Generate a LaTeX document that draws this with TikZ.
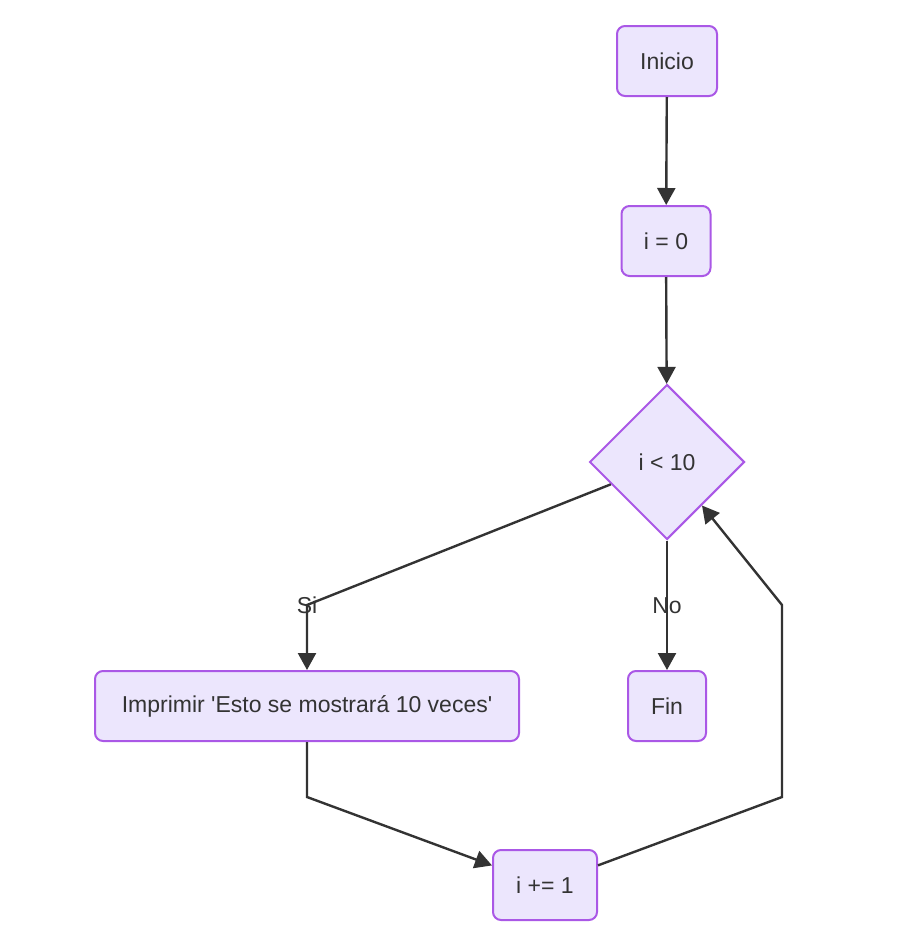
\documentclass[tikz,border=0pt]{standalone}
\usepackage{fontspec}
\setmainfont{Liberation Sans}
\usetikzlibrary{shapes.geometric}
\usetikzlibrary{arrows.meta}
\definecolor{boxfill}{HTML}{ECE6FD}
\definecolor{boxline}{HTML}{AA58E6}
\definecolor{ink}{HTML}{333333}
\tikzstyle{block}=[rectangle, rounded corners=8pt, draw=boxline, fill=boxfill, line width=2pt, minimum height=70pt, inner sep=0pt, text=ink, font=\fontsize{23}{28}\selectfont]
\tikzstyle{test}=[diamond, aspect=1, draw=boxline, fill=boxfill, line width=2pt, minimum width=155pt, minimum height=155pt, inner sep=0pt, text=ink, font=\fontsize{23}{28}\selectfont]
\tikzstyle{link}=[draw=ink, line width=2.4pt, -{Triangle[length=17pt,width=18pt]}]
\tikzstyle{tag}=[text=ink, inner sep=0pt, font=\fontsize{23}{28}\selectfont]

\begin{document}
\begin{tikzpicture}[x=1pt, y=-1pt]
    \useasboundingbox (0,0) rectangle (923,945);

    %steps
    \node[block, minimum width=100pt] (inicio) at (667,61) {Inicio};
    \node[block, minimum width=89pt] (izero) at (666,241) {i = 0};
    \node[test] (cond) at (667,462) {i < 10};
    \node[block, minimum width=424pt] (imprimir) at (307,706) {Imprimir \textquotesingle Esto se mostrará 10 veces\textquotesingle};
    \node[block, minimum width=78pt] (fin) at (667,706) {Fin};
    \node[block, minimum width=104pt] (incr) at (545,885) {i += 1};

    %bends
    \coordinate (sibend) at (307,605);
    \coordinate (imprbend) at (307,797);
    \coordinate (incrbend) at (782,797);
    \coordinate (loopbend) at (782,605);

    %arrows
    \draw[link] (inicio) -- (izero);
    \draw[link] (izero) -- (cond);
    \draw[link] (cond) -- (sibend) -- (imprimir);
    \draw[link] (cond) -- (fin);
    \draw[link] (imprimir) -- (imprbend) -- (incr);
    \draw[link] (incr) -- (incrbend) -- (loopbend) -- (cond);

    %labels
    \node[tag] (si) at (sibend) {Si};
    \node[tag] (no) at (667,606) {No};

\end{tikzpicture}
\end{document}
